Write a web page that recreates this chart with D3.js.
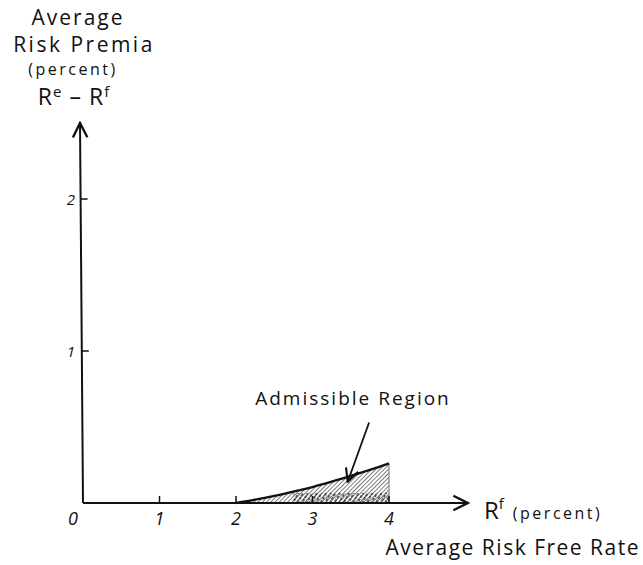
<!DOCTYPE html>
<html><head><meta charset="utf-8">
<script src="https://cdn.jsdelivr.net/npm/d3@7"></script>
<style>body{margin:0;background:#fff}text{font-family:"Open Sans",sans-serif;fill:#111}</style>
</head><body><svg id="c" width="643" height="565"></svg>
<script>
const xTicks = [1, 2, 3, 4];
const xTickLabels = ["1", "2", "3", "4"];
const yTicks = [1, 2];
const yTickLabels = ["1", "2"];
const curveX = [2, 2.25, 2.5, 2.75, 3, 3.25, 3.5, 3.75, 4];
const curveY = [0, 0.022, 0.047, 0.075, 0.105, 0.14, 0.178, 0.218, 0.26];
const arrowFrom = [3.74, 0.53];
const arrowTo = [3.46, 0.14];

const svg = d3.select("#c");
const x = d3.scaleLinear().domain([0, 4]).range([83, 389]);
const y = d3.scaleLinear().domain([0, 2]).range([503, 199]);

const defs = svg.append("defs");
const pat = defs.append("pattern").attr("id","hatch").attr("patternUnits","userSpaceOnUse")
  .attr("width",3).attr("height",3).attr("patternTransform","rotate(45)");
pat.append("rect").attr("width",3).attr("height",3).attr("fill","#fff");
pat.append("line").attr("x1",0).attr("y1",0).attr("x2",0).attr("y2",3).attr("stroke","#444").attr("stroke-width",1.4);
const pat2 = defs.append("pattern").attr("id","stip").attr("patternUnits","userSpaceOnUse")
  .attr("width",4).attr("height",4).attr("patternTransform","rotate(30)");
pat2.append("rect").attr("width",2).attr("height",3).attr("fill","#222");
defs.append("marker").attr("id","ah").attr("viewBox","0 0 10 10").attr("refX",9).attr("refY",5)
  .attr("markerWidth",9).attr("markerHeight",9).attr("orient","auto-start-reverse")
  .append("path").attr("d","M1,1 L9,5 L1,9").attr("fill","none").attr("stroke","#111").attr("stroke-width",1.3);

const pts = curveX.map((v,i)=>[v,curveY[i]]);
const crv = d3.curveCatmullRom;
const area = d3.area().x(d=>x(d[0])).y0(y(0)).y1(d=>y(d[1])).curve(crv);
svg.append("path").datum(pts).attr("d",area).attr("fill","url(#hatch)").attr("stroke","none");
const area2 = d3.area().x(d=>x(d[0])).y0(y(0)).y1(d=>y(Math.min(d[1],0.065))).curve(crv);
svg.append("path").datum(pts.filter(d=>d[0]>=2.75)).attr("d",area2).attr("fill","url(#stip)").attr("opacity",0.7);
svg.append("line").attr("x1",x(4)).attr("x2",x(4)).attr("y1",y(0)).attr("y2",y(curveY[curveY.length-1])).attr("stroke","#777").attr("stroke-width",1);
const line = d3.line().x(d=>x(d[0])).y(d=>y(d[1])).curve(crv);
svg.append("path").datum(pts).attr("d",line).attr("fill","none").attr("stroke","#111").attr("stroke-width",2.4);

svg.append("line").attr("x1",x(0)).attr("y1",y(0)).attr("x2",x(5.03)).attr("y2",y(0))
  .attr("stroke","#111").attr("stroke-width",2).attr("marker-end","url(#ah)");
svg.append("line").attr("x1",x(0)).attr("y1",y(0)).attr("x2",x(0)-3).attr("y2",y(2.5))
  .attr("stroke","#111").attr("stroke-width",2).attr("marker-end","url(#ah)");

svg.selectAll(".xt").data(xTicks).enter().append("line")
  .attr("x1",d=>x(d)).attr("x2",d=>x(d)).attr("y1",y(0)).attr("y2",y(0)-7).attr("stroke","#111").attr("stroke-width",1.5);
svg.selectAll(".xl").data(xTickLabels).enter().append("text")
  .attr("x",(d,i)=>x(xTicks[i])).attr("y",525).attr("text-anchor","middle").attr("font-size",18).attr("font-style","italic").text(d=>d);
svg.append("text").attr("x",x(0)-10).attr("y",525).attr("text-anchor","middle").attr("font-size",18).attr("font-style","italic").text("0");
svg.selectAll(".yt").data(yTicks).enter().append("line")
  .attr("x1",d=>x(0)-3*(d/2.5)).attr("x2",d=>x(0)-3*(d/2.5)+7).attr("y1",d=>y(d)).attr("y2",d=>y(d)).attr("stroke","#111").attr("stroke-width",1.5);
svg.selectAll(".yl").data(yTickLabels).enter().append("text")
  .attr("x",x(0)-12).attr("y",(d,i)=>y(yTicks[i])+6).attr("text-anchor","middle").attr("font-size",15).attr("font-style","italic").text(d=>d);

svg.append("text").attr("x",353).attr("y",405).attr("text-anchor","middle").attr("font-size",19).attr("letter-spacing",2).text("Admissible Region");
svg.append("line").attr("x1",x(arrowFrom[0])).attr("y1",y(arrowFrom[1])).attr("x2",x(arrowTo[0])).attr("y2",y(arrowTo[1]))
  .attr("stroke","#111").attr("stroke-width",1.8).attr("marker-end","url(#ah)");

const yt = svg.append("g");
yt.append("text").attr("x",78).attr("y",25).attr("text-anchor","middle").attr("font-size",21).attr("letter-spacing",2).text("Average");
yt.append("text").attr("x",84).attr("y",52).attr("text-anchor","middle").attr("font-size",21).attr("letter-spacing",2.5).text("Risk Premia");
yt.append("text").attr("x",73).attr("y",75).attr("text-anchor","middle").attr("font-size",16).attr("letter-spacing",2.5).text("(percent)");
const t4 = yt.append("text").attr("x",74).attr("y",105).attr("text-anchor","middle").attr("font-size",23).attr("letter-spacing",1);
t4.append("tspan").text("R");
t4.append("tspan").attr("font-size",15).attr("dy",-8).text("e");
t4.append("tspan").attr("dy",8).text(" \u2013 R");
t4.append("tspan").attr("font-size",15).attr("dy",-8).text("f");

const xr = svg.append("text").attr("x",484).attr("y",519).attr("font-size",24);
xr.append("tspan").text("R");
xr.append("tspan").attr("font-size",15).attr("dy",-10).text("f");
xr.append("tspan").attr("font-size",16).attr("letter-spacing",2.5).attr("dy",10).attr("dx",9).text("(percent)");
svg.append("text").attr("x",640).attr("y",555).attr("text-anchor","end").attr("font-size",21).attr("letter-spacing",1.5).text("Average Risk Free Rate");
</script></body></html>
